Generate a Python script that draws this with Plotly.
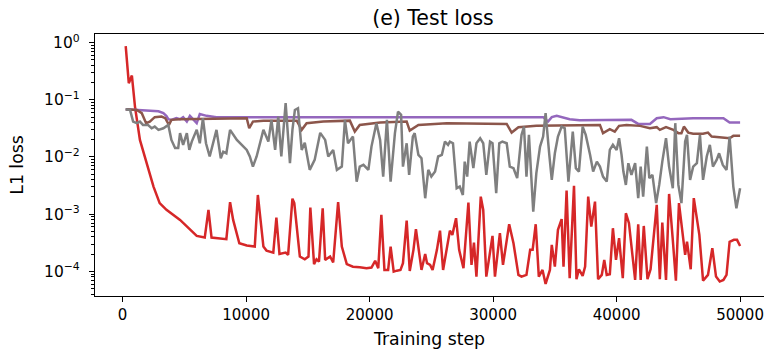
import numpy as np
import plotly.graph_objects as go

# ---- test loss curves (L1 loss vs training step) ----
red_steps = [250, 500, 750, 1000, 1400, 1950, 2500, 3000, 3550, 4650, 5450, 6000, 6650, 6950, 7200,
             8400, 8700, 8950, 9450, 10050, 10700, 10950, 11400, 11650, 12200, 12450, 12700, 13200,
             13400, 13750, 13900, 14350, 14750, 15050, 15200, 15500, 15700, 15900, 16200, 16400,
             16800, 17050, 17450, 17750, 18150, 18650, 19200, 19750, 20150, 20450, 20700, 20950,
             21200, 21500, 21700, 21950, 22200, 22500, 22700, 23000, 23250, 23550, 23750, 23950,
             24200, 24500, 24650, 24900, 25100, 25450, 25700, 25950, 26250, 26500, 26700, 27000,
             27250, 27600, 28000, 28250, 28450, 28650, 29000, 29200, 29450, 29950, 30150, 30550,
             30800, 31300, 31650, 32050, 32300, 32700, 33000, 33200, 33450, 33700, 34000, 34250,
             34600, 34750, 35000, 35250, 35550, 35700, 35950, 36200, 36550, 36750, 36950, 37250,
             37450, 37700, 37950, 38250, 38500, 38800, 39000, 39200, 39450, 39700, 39950, 40200,
             40500, 40750, 41000, 41500, 41750, 41950, 42200, 42500, 42750, 43250, 43500, 43700,
             44000, 44250, 44550, 44800, 45050, 45550, 45700, 46000, 46250, 46700, 47000, 47400,
             47750, 48050, 48350, 48650, 48900, 49150, 49500, 49750, 50000]
red_loss = [0.87, 0.195, 0.265, 0.076, 0.0199, 0.0078, 0.00304, 0.00156, 0.00119, 0.000794, 0.000531,
            0.000418, 0.00039, 0.00119, 0.00039, 0.000366, 0.00162, 0.000794, 0.000311, 0.000283,
            0.000272, 0.00217, 0.000272, 0.000231, 0.000213, 0.000872, 0.000202, 0.000213, 0.000194,
            0.00187, 0.00156, 0.000182, 0.000163, 0.000182, 0.00131, 0.000134, 0.000163, 0.000148,
            0.00127, 0.000159, 0.000182, 0.000143, 0.00162, 0.000272, 0.000134, 0.000121, 0.000118,
            0.000114, 0.000117, 0.000153, 0.000114, 0.000973, 0.000106, 0.000106, 0.000272, 0.0000993,
            0.000103, 0.000106, 0.000139, 0.000773, 0.000102, 0.000238, 0.000547, 0.000238, 0.000106,
            0.000202, 0.000139, 0.00013, 0.000106, 0.000238, 0.000516, 0.000106, 0.000272, 0.000516,
            0.000435, 0.000851, 0.000238, 0.000114, 0.0016, 0.00013, 0.000318, 0.0000811, 0.00203,
            0.00119, 0.0000811, 0.000418, 0.0000811, 0.000466, 0.00013, 0.000668, 0.000311, 0.0000869,
            0.0000811, 0.0000869, 0.000238, 0.000238, 0.000668, 0.0000811, 0.000106, 0.0000604,
            0.000106, 0.000291, 0.000121, 0.000532, 0.000819, 0.000121, 0.00259, 0.000076, 0.00313,
            0.0000731, 0.000109, 0.0000834, 0.000121, 0.00203, 0.000607, 0.00166, 0.0000731, 0.0000869,
            0.000159, 0.0000869, 0.0000893, 0.000569, 0.000159, 0.00038, 0.000076, 0.00104, 0.000697,
            0.000071, 0.000668, 0.000071, 0.000623, 0.0000731, 0.000109, 0.00146, 0.0000731, 0.000713,
            0.000071, 0.00226, 0.000356, 0.000069, 0.00156, 0.000194, 0.000332, 0.000109, 0.00191,
            0.000434, 0.000069, 0.0000869, 0.000255, 0.0000811, 0.0000664, 0.000071, 0.0000869,
            0.00033, 0.000356, 0.000356, 0.000278]

gray_steps = [250, 600, 850, 1150, 1400, 1650, 2050, 2350, 2600, 2900, 3300, 3700, 3950, 4250, 4500,
              4650, 4900, 5200, 5400, 5600, 6000, 6250, 6500, 6750, 7050, 7600, 7950, 8150, 8400,
              8700, 9250, 9650, 10050, 10300, 10550, 10850, 11100, 11400, 11800, 12050, 12350, 12600,
              12850, 13200, 13550, 13750, 13950, 14200, 14500, 14750, 15150, 15550, 16000, 16400,
              16650, 17050, 17350, 17750, 18000, 18250, 18650, 18950, 19200, 19500, 19900, 20150,
              20550, 20850, 21100, 21400, 21700, 22050, 22300, 22550, 22700, 23000, 23200, 23500,
              23650, 23950, 24200, 24500, 24750, 25000, 25300, 25550, 25850, 26100, 26350, 26500,
              26750, 27050, 27300, 27550, 27700, 27900, 28100, 28400, 28650, 28950, 29200, 29450,
              29750, 29950, 30250, 30500, 30750, 31100, 31350, 31650, 31950, 32300, 32500, 32700,
              32900, 33250, 33500, 33800, 34050, 34250, 34550, 34750, 35000, 35250, 35550, 35800,
              36100, 36450, 36700, 36950, 37250, 37500, 37850, 38100, 38400, 38650, 38900, 39200,
              39450, 39700, 40000, 40200, 40400, 40550, 40750, 40950, 41200, 41500, 41750, 41950,
              42150, 42450, 42650, 42900, 43200, 43450, 43700, 44000, 44250, 44550, 44750, 45000,
              45250, 45550, 45700, 45950, 46200, 46500, 46750, 47000, 47300, 47550, 47800, 48100,
              48300, 48600, 48900, 49150, 49450, 49700, 50000]
gray_loss = [0.0686, 0.0665, 0.0416, 0.039, 0.0416, 0.0364, 0.0364, 0.0318, 0.034, 0.0298, 0.0318,
             0.0364, 0.0199, 0.0143, 0.0143, 0.0261, 0.0163, 0.0261, 0.0133, 0.0186, 0.0298, 0.0174,
             0.0477, 0.0174, 0.0102, 0.0298, 0.00953, 0.0124, 0.0116, 0.0298, 0.0199, 0.0163, 0.0133,
             0.0102, 0.00679, 0.0102, 0.0174, 0.0298, 0.0186, 0.0446, 0.0133, 0.0508, 0.0102, 0.0873,
             0.00779, 0.0298, 0.0665, 0.0713, 0.0133, 0.0177, 0.00595, 0.0089, 0.0264, 0.0199, 0.0102,
             0.0133, 0.00595, 0.00679, 0.0446, 0.0174, 0.0228, 0.00371, 0.00679, 0.00728, 0.00595,
             0.0152, 0.039, 0.0199, 0.00454, 0.0446, 0.00371, 0.0261, 0.0622, 0.0545, 0.00679, 0.0174,
             0.00486, 0.0228, 0.0261, 0.0109, 0.00953, 0.0019, 0.00595, 0.00454, 0.00556, 0.0102,
             0.0109, 0.0186, 0.0163, 0.0186, 0.0174, 0.00285, 0.00304, 0.00217, 0.00831, 0.00454,
             0.0186, 0.00637, 0.0174, 0.0213, 0.0174, 0.00486, 0.0186, 0.0174, 0.00233, 0.0174, 0.0186,
             0.0174, 0.00679, 0.00637, 0.00426, 0.0243, 0.034, 0.00454, 0.0243, 0.00111, 0.00521,
             0.0152, 0.0228, 0.0584, 0.0109, 0.00398, 0.0116, 0.0228, 0.034, 0.0318, 0.00371, 0.0278,
             0.00637, 0.00556, 0.034, 0.0243, 0.0109, 0.00556, 0.00831, 0.00679, 0.00454, 0.00371,
             0.0133, 0.0163, 0.0133, 0.0213, 0.0109, 0.00556, 0.00325, 0.00779, 0.00486, 0.00779,
             0.0019, 0.00679, 0.00203, 0.0152, 0.00426, 0.00486, 0.00156, 0.00325, 0.00831, 0.0213,
             0.00679, 0.00285, 0.039, 0.00325, 0.00156, 0.0186, 0.0243, 0.00398, 0.00679, 0.00779,
             0.0243, 0.00398, 0.0102, 0.0163, 0.00679, 0.0089, 0.0116, 0.00728, 0.00595, 0.0228,
             0.00304, 0.00127, 0.00285]

purple_steps = [250, 2250, 2900, 3300, 3550, 3700, 3950, 4350, 4650, 4900, 5200, 5450, 5700, 6000,
                6250, 6800, 7600, 34050, 34450, 34750, 35150, 35700, 36200, 37000, 40200, 41200,
                41750, 42700, 43250, 43800, 44350, 46200, 48650, 49150, 50000]
purple_loss = [0.0686, 0.0647, 0.063, 0.0584, 0.052, 0.0458, 0.0446, 0.0477, 0.0458, 0.0497, 0.0416,
               0.0524, 0.0458, 0.039, 0.0566, 0.0524, 0.0497, 0.0497, 0.0416, 0.0497, 0.0524, 0.0483,
               0.0458, 0.0438, 0.0445, 0.0446, 0.0379, 0.0379, 0.0477, 0.0497, 0.0458, 0.0477, 0.0477,
               0.0399, 0.0399]

brown_steps = [250, 1150, 1550, 1900, 2200, 2600, 3150, 3450, 3750, 3950, 4650, 10050, 10250, 10550,
               11400, 14100, 14500, 14900, 16250, 18400, 18800, 19200, 20850, 23000, 23250, 23950,
               26250, 31100, 31500, 32050, 33500, 37000, 38650, 38900, 39450, 39850, 40200, 40800,
               41900, 42700, 43250, 43500, 44000, 44600, 45000, 45250, 45450, 45800, 46200, 47000,
               47400, 47700, 48100, 49150, 49450, 50000]
brown_loss = [0.0686, 0.0665, 0.0584, 0.039, 0.0416, 0.0497, 0.0508, 0.0477, 0.0364, 0.0446, 0.0458,
              0.0477, 0.0318, 0.0416, 0.0432, 0.0432, 0.0298, 0.039, 0.0416, 0.0432, 0.0278, 0.0364,
              0.0399, 0.0416, 0.029, 0.0364, 0.039, 0.0379, 0.0267, 0.0332, 0.035, 0.0364, 0.0364,
              0.0261, 0.0306, 0.0278, 0.035, 0.0364, 0.035, 0.0318, 0.0332, 0.0298, 0.0332, 0.0298,
              0.0261, 0.0261, 0.034, 0.0267, 0.0254, 0.0254, 0.0267, 0.0228, 0.0222, 0.0213, 0.0234,
              0.0234]

x_ticks = [0, 10000, 20000, 30000, 40000, 50000]
x_ticklabels = ["0", "10000", "20000", "30000", "40000", "50000"]
y_ticks = [1e-4, 1e-3, 1e-2, 1e-1, 1e0]
y_ticklabels = ["10<sup>−4</sup>", "10<sup>−3</sup>", "10<sup>−2</sup>", "10<sup>−1</sup>", "10<sup>0</sup>"]
y_minor = [m * 10.0 ** e for e in range(-5, 1) for m in range(2, 10)]

series = [
    (red_steps, red_loss, "#d62728"),
    (purple_steps, purple_loss, "#9467bd"),
    (brown_steps, brown_loss, "#8c564b"),
    (gray_steps, gray_loss, "#7f7f7f"),
]

fig = go.Figure()
for steps, loss, color in series:
    fig.add_trace(go.Scatter(x=steps, y=loss, mode="lines",
                             line=dict(color=color, width=2.5), showlegend=False))

FONT = "DejaVu Sans"
fig.update_layout(
    width=764, height=349,
    margin=dict(l=95, r=0, t=34, b=53),
    paper_bgcolor="white", plot_bgcolor="white",
    font=dict(family=FONT, color="black"),
    title=dict(text="(e) Test loss", x=433 / 764, xanchor="center",
               y=1 - 18 / 349, yanchor="middle", font=dict(size=20.5, color="black")),
    showlegend=False,
)
fig.update_xaxes(
    range=[-2237, 51935],
    tickmode="array", tickvals=x_ticks, ticktext=x_ticklabels,
    ticks="outside", ticklen=5, tickwidth=1.3, tickcolor="black",
    tickfont=dict(size=15),
    showline=True, linecolor="black", linewidth=1.3, mirror=True,
    showgrid=False, zeroline=False,
    title=dict(text="Training step", font=dict(size=17.3), standoff=9),
)
fig.update_yaxes(
    type="log", range=[-4.43, 0.15],
    tickmode="array", tickvals=y_ticks, ticktext=y_ticklabels,
    ticks="outside", ticklen=5, tickwidth=1.3, tickcolor="black",
    tickfont=dict(size=15.5), ticklabelstandoff=6,
    minor=dict(tickmode="array", tickvals=y_minor, ticks="outside", ticklen=3,
               tickwidth=1, tickcolor="black", showgrid=False),
    showline=True, linecolor="black", linewidth=1.3, mirror=False,
    showgrid=False, zeroline=False,
    title=dict(text="L1 loss", font=dict(size=17.3), standoff=15),
)

fig.write_html("out.html")
